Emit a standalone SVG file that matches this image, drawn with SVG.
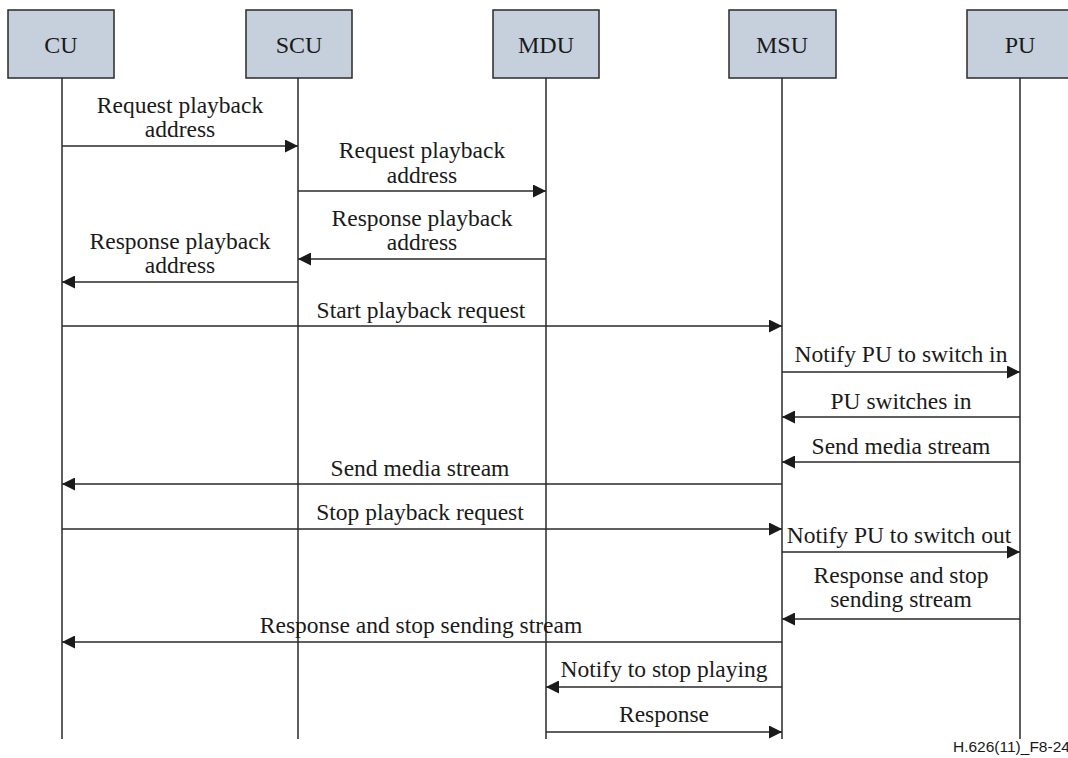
<svg xmlns="http://www.w3.org/2000/svg" width="1068" height="758" viewBox="0 0 1068 758">
<style>
.box{fill:#c5d0dc;stroke:#2a2a2a;stroke-width:1.5}
.life{stroke:#2a2a2a;stroke-width:1.5;fill:none}
.msg{stroke:#2a2a2a;stroke-width:1.4;fill:none;marker-end:url(#ah)}
.t{font-family:"Liberation Serif","Times New Roman",serif;font-size:23.5px;fill:#1a1a1a;text-anchor:middle}
.n{font-family:"Liberation Serif","Times New Roman",serif;font-size:24px;fill:#1a1a1a;text-anchor:middle}
.c{font-family:"Liberation Sans",Arial,sans-serif;font-size:15.5px;fill:#1a1a1a}
</style>
<defs>
<marker id="ah" viewBox="0 0 13 13" refX="13" refY="6.5" markerWidth="13" markerHeight="13" markerUnits="userSpaceOnUse" orient="auto">
<path d="M0,0 L13,6.5 L0,13 Z" fill="#1a1a1a"/>
</marker>
</defs>
<rect width="1068" height="758" fill="#fff"/>
<g id="CU"><rect class="box" x="8" y="10" width="106" height="68"/><text class="n" x="61" y="53">CU</text><line class="life" x1="62" y1="78" x2="62" y2="739"/></g>
<g id="SCU"><rect class="box" x="246" y="10" width="106" height="68"/><text class="n" x="299" y="53">SCU</text><line class="life" x1="298" y1="78" x2="298" y2="739"/></g>
<g id="MDU"><rect class="box" x="493" y="10" width="106" height="68"/><text class="n" x="546" y="53">MDU</text><line class="life" x1="546" y1="78" x2="546" y2="739"/></g>
<g id="MSU"><rect class="box" x="729" y="10" width="107" height="68"/><text class="n" x="782" y="53">MSU</text><line class="life" x1="782" y1="78" x2="782" y2="739"/></g>
<g id="PU"><rect class="box" x="967" y="10" width="106" height="68"/><text class="n" x="1020" y="53">PU</text><line class="life" x1="1020" y1="78" x2="1020" y2="739"/></g>
<g id="connectors">
<line class="msg" x1="62" y1="146" x2="298" y2="146"/>
<line class="msg" x1="298" y1="191" x2="546" y2="191"/>
<line class="msg" x1="546" y1="259" x2="298" y2="259"/>
<line class="msg" x1="298" y1="282" x2="62" y2="282"/>
<line class="msg" x1="62" y1="326" x2="782" y2="326"/>
<line class="msg" x1="782" y1="372" x2="1020" y2="372"/>
<line class="msg" x1="1020" y1="417" x2="782" y2="417"/>
<line class="msg" x1="1020" y1="462" x2="782" y2="462"/>
<line class="msg" x1="782" y1="484" x2="62" y2="484"/>
<line class="msg" x1="62" y1="529" x2="782" y2="529"/>
<line class="msg" x1="782" y1="552" x2="1020" y2="552"/>
<line class="msg" x1="1020" y1="619" x2="782" y2="619"/>
<line class="msg" x1="782" y1="642" x2="62" y2="642"/>
<line class="msg" x1="782" y1="687" x2="546" y2="687"/>
<line class="msg" x1="546" y1="732" x2="782" y2="732"/>
</g>
<g id="labels">
<text class="t" x="180" y="113">Request playback</text>
<text class="t" x="180" y="137">address</text>
<text class="t" x="422" y="158">Request playback</text>
<text class="t" x="422" y="183">address</text>
<text class="t" x="422" y="226">Response playback</text>
<text class="t" x="422" y="250">address</text>
<text class="t" x="180" y="249">Response playback</text>
<text class="t" x="180" y="273">address</text>
<text class="t" x="421" y="318">Start playback request</text>
<text class="t" x="901" y="362">Notify PU to switch in</text>
<text class="t" x="901" y="409">PU switches in</text>
<text class="t" x="901" y="454">Send media stream</text>
<text class="t" x="420" y="476">Send media stream</text>
<text class="t" x="420" y="520">Stop playback request</text>
<text class="t" x="899" y="543">Notify PU to switch out</text>
<text class="t" x="901" y="583">Response and stop</text>
<text class="t" x="901" y="607">sending stream</text>
<text class="t" x="421" y="633">Response and stop sending stream</text>
<text class="t" x="664" y="677">Notify to stop playing</text>
<text class="t" x="664" y="722">Response</text>
</g>
<text class="c" x="953" y="752">H.626(11)_F8-24</text>
</svg>
